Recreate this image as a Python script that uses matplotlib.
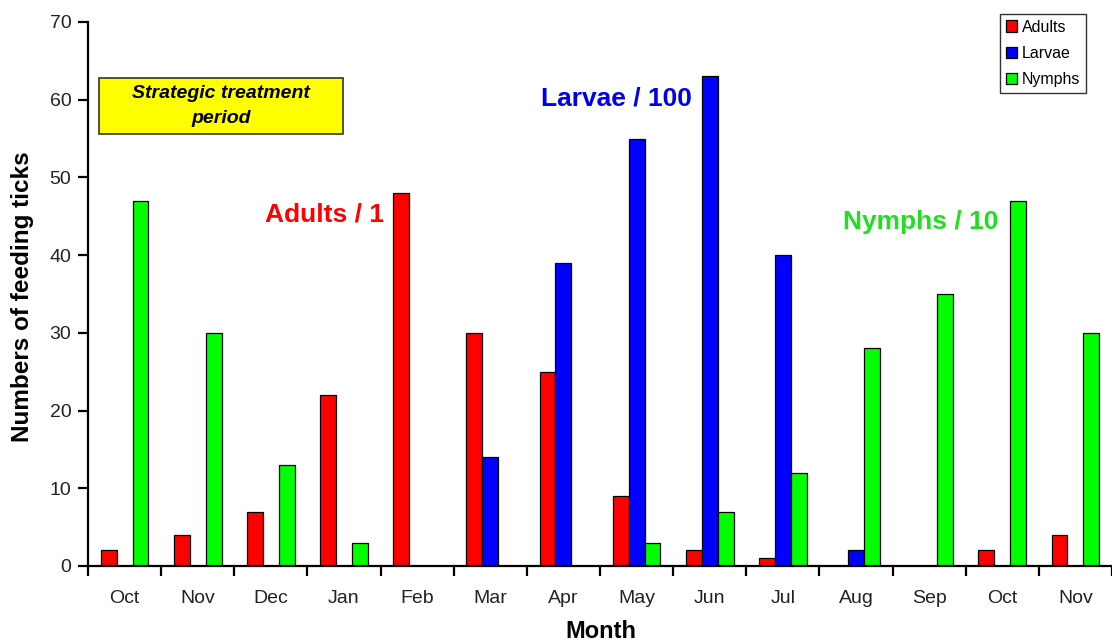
import matplotlib.pyplot as plt
import numpy as np
from matplotlib.patches import Rectangle

plt.rcParams['font.family'] = ['Liberation Sans', 'DejaVu Sans']

# Monthly feeding tick counts (scaled: adults /1, larvae /100, nymphs /10)
months = ['Oct', 'Nov', 'Dec', 'Jan', 'Feb', 'Mar', 'Apr',
          'May', 'Jun', 'Jul', 'Aug', 'Sep', 'Oct', 'Nov']
adults = [2, 4, 7, 22, 48, 30, 25, 9, 2, 1, 0, 0, 2, 4]
larvae = [0, 0, 0, 0, 0, 14, 39, 55, 63, 40, 2, 0, 0, 0]
nymphs = [47, 30, 13, 3, 0, 0, 0, 3, 7, 12, 28, 35, 47, 30]

x = np.arange(len(months))
w = 0.218

fig = plt.figure(figsize=(11.12, 6.44), dpi=100)
ax = fig.add_axes([88 / 1112, 1 - 566 / 644, 1 - 88 / 1112, (566 - 22) / 644])

ax.bar(x - w, adults, w, color='#ff0000', edgecolor='black', linewidth=0.9, label='Adults')
ax.bar(x, larvae, w, color='#0000ff', edgecolor='black', linewidth=0.9, label='Larvae')
ax.bar(x + w, nymphs, w, color='#00ff00', edgecolor='black', linewidth=0.9, label='Nymphs')

ax.set_xlim(-0.5, 13.45)
ax.set_ylim(0, 70)
ax.set_yticks(range(0, 71, 10))

# ticks sit between month groups, labels in the middle
ax.set_xticks(np.arange(-0.5, 14, 1))
ax.set_xticklabels([])
ax.set_xticks(x, minor=True)
ax.set_xticklabels(months, minor=True)
ax.tick_params(axis='x', which='major', direction='out', length=7, width=1.6)
ax.tick_params(axis='x', which='minor', length=0, pad=17, labelsize=14, labelcolor='#222222')
ax.tick_params(axis='y', direction='out', length=7, width=1.6, pad=5,
               labelsize=14, labelcolor='#222222')

for side in ['top', 'right']:
    ax.spines[side].set_visible(False)
for side in ['left', 'bottom']:
    ax.spines[side].set_linewidth(1.6)

ax.set_ylabel('Numbers of feeding ticks', fontsize=17.5, fontweight='bold')
ax.yaxis.set_label_coords(-(88 - 34) / 1024, (566 - 297) / 544)
ax.set_xlabel('Month', fontsize=17, fontweight='bold', va='center')
ax.xaxis.set_label_coords((601 - 88) / 1024, -(631 - 566) / 544)

# series scale annotations
ax.text(2.73, 45.2, 'Adults / 1', color='#ff0000', fontsize=19, fontweight='bold',
        ha='center', va='center')
ax.text(6.72, 60.2, 'Larvae / 100', color='#0000ee', fontsize=19, fontweight='bold',
        ha='center', va='center')
ax.text(10.89, 44.3, 'Nymphs / 10', color='#22dd22', fontsize=19, fontweight='bold',
        ha='center', va='center')

# treatment period box
ax.add_patch(Rectangle((-0.35, 55.6), 3.34, 7.2, facecolor='#ffff00',
                       edgecolor='#333333', linewidth=1.2, zorder=3))
ax.text(1.32, 59.2, 'Strategic treatment\nperiod', fontsize=14, fontweight='bold',
        fontstyle='italic', ha='center', va='center', linespacing=1.6, zorder=4)

leg = ax.legend(loc='upper right', bbox_to_anchor=(1086 / 1112, 1 - 14 / 644),
                bbox_transform=fig.transFigure, fontsize=11.5, frameon=True,
                fancybox=False, edgecolor='black', borderaxespad=0,
                handlelength=0.7, handleheight=0.7, handletextpad=0.3,
                labelspacing=0.7, borderpad=0.35)
leg.get_frame().set_linewidth(1.0)

fig.savefig('out.png', dpi=100)
